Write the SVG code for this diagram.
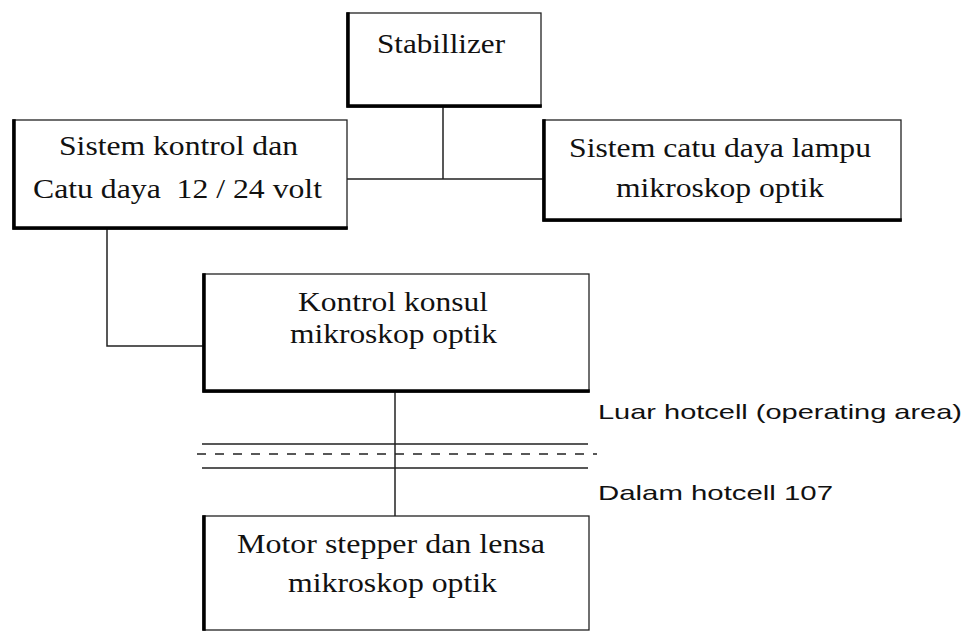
<svg xmlns="http://www.w3.org/2000/svg" width="968" height="631" viewBox="0 0 968 631">
<style>
.box{fill:#fff;stroke:#222;stroke-width:1.3}
.sh{fill:none;stroke:#000;stroke-width:3.5;stroke-linecap:square}
.ln{fill:none;stroke:#222;stroke-width:1.5}
.t{font-family:"Liberation Serif","Times New Roman",serif;font-size:28px;fill:#111;white-space:pre}
.s{font-family:"Liberation Sans",Arial,sans-serif;font-size:21px;fill:#111}
</style>
<rect width="968" height="631" fill="#fff"/>
<g id="connectors">
<path class="ln" d="M443 107V179M347 179H543"/>
<path class="ln" d="M107 229V346H203"/>
<path class="ln" d="M395 392V516"/>
<path class="ln" d="M202 444H588M202 468H588"/>
<path class="ln" d="M197 454H597" stroke-dasharray="9 9"/>
</g>
<g id="stabilizer">
<rect class="box" x="347" y="13" width="194" height="94"/>
<path class="sh" d="M348 14V106H540"/>
<text class="t" x="441" y="53" text-anchor="middle" textLength="128" lengthAdjust="spacingAndGlyphs">Stabillizer</text>
</g>
<g id="sistem-kontrol">
<rect class="box" x="13" y="120" width="334" height="109"/>
<path class="sh" d="M14 121V228H346"/>
<text class="t" x="178.5" y="155" text-anchor="middle" textLength="239" lengthAdjust="spacingAndGlyphs">Sistem kontrol dan</text>
<text class="t" x="177.5" y="198" text-anchor="middle" textLength="289" lengthAdjust="spacingAndGlyphs">Catu daya  12 / 24 volt</text>
</g>
<g id="sistem-catu">
<rect class="box" x="543" y="120" width="358" height="101"/>
<path class="sh" d="M544 121V220H900"/>
<text class="t" x="720" y="157" text-anchor="middle" textLength="302" lengthAdjust="spacingAndGlyphs">Sistem catu daya lampu</text>
<text class="t" x="720" y="197" text-anchor="middle" textLength="208" lengthAdjust="spacingAndGlyphs">mikroskop optik</text>
</g>
<g id="kontrol-konsul">
<rect class="box" x="203" y="274" width="386" height="118"/>
<path class="sh" d="M204 275V391H588"/>
<text class="t" x="393" y="311" text-anchor="middle" textLength="190" lengthAdjust="spacingAndGlyphs">Kontrol konsul</text>
<text class="t" x="393.5" y="343" text-anchor="middle" textLength="207" lengthAdjust="spacingAndGlyphs">mikroskop optik</text>
</g>
<g id="motor-stepper">
<rect class="box" x="203" y="516" width="386" height="114"/>
<path class="sh" d="M204 517V629"/>
<text class="t" x="391" y="553" text-anchor="middle" textLength="308" lengthAdjust="spacingAndGlyphs">Motor stepper dan lensa</text>
<text class="t" x="392.5" y="592" text-anchor="middle" textLength="209" lengthAdjust="spacingAndGlyphs">mikroskop optik</text>
</g>
<g id="labels">
<text class="s" x="598" y="419" textLength="364" lengthAdjust="spacingAndGlyphs">Luar hotcell (operating area)</text>
<text class="s" x="598" y="500" textLength="235" lengthAdjust="spacingAndGlyphs">Dalam hotcell 107</text>
</g>
</svg>
